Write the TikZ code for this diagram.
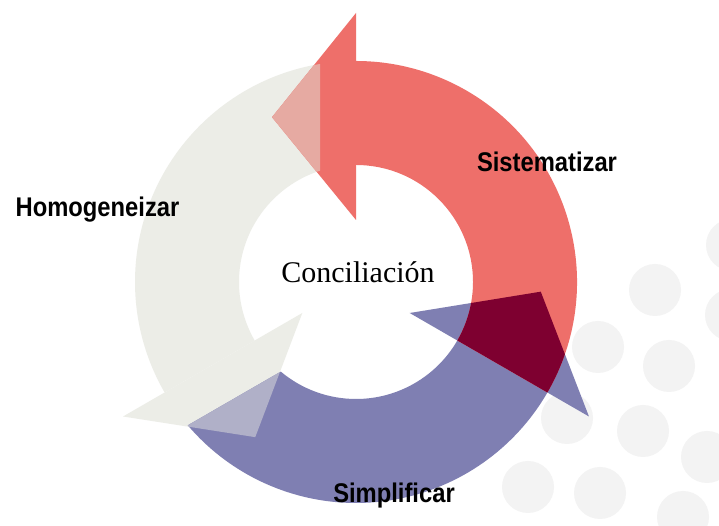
\documentclass[tikz,border=0pt]{standalone}
\usepackage{fontspec}
\setmainfont{Liberation Serif}
\newfontfamily\labelfont{Liberation Sans}
\definecolor{redA}{RGB}{238,111,106}
\definecolor{greyA}{RGB}{236,237,231}
\definecolor{blueA}{RGB}{127,127,178}
\definecolor{pinkO}{RGB}{230,170,162}
\definecolor{lavO}{RGB}{176,176,200}
\definecolor{darkO}{RGB}{126,0,48}
\definecolor{dotgray}{RGB}{243,243,243}
\newcommand\pRedBody{(-30:221) arc[start angle=-30,end angle=90,radius=221] -- (90:117) arc[start angle=90,end angle=-30,radius=117] -- cycle}
\newcommand\pRedHead{(90:62) -- (90:269) -- (117:185) -- cycle}
\newcommand\pGreyBody{(99.37:221) arc[start angle=99.37,end angle=210,radius=221] -- (210:117) arc[start angle=210,end angle=107.92,radius=117] -- cycle}
\newcommand\pGreyHead{(210:62) -- (210:269) -- (237:185) -- cycle}
\newcommand\pBlueBody{(220.43:221) arc[start angle=220.43,end angle=330,radius=221] -- (330:117) arc[start angle=330,end angle=229.99,radius=117] -- cycle}
\newcommand\pBlueHead{(330:62) -- (330:269) -- (357:185) -- cycle}
\tikzset{
  lbl/.style={inner sep=0pt, anchor=base, font=\labelfont\bfseries\fontsize{27}{27}\selectfont, text=black},
  center lbl/.style={inner sep=0pt, anchor=base, font=\fontsize{30}{30}\selectfont, text=black},
  dot/.style={fill=dotgray}
}
\begin{document}
\begin{tikzpicture}[x=1pt,y=1pt]
\useasboundingbox (0,0) rectangle (719,526);
\fill[white] (0,0) rectangle (719,526);
% background dots
\foreach \dx/\dy in {655/236, 598/179, 669/160, 643/95, 567/108, 528/39, 600/33, 707/69, 683/9, 732/281, 731/211}
  \fill[dot] (\dx,\dy) circle (26);
\begin{scope}[shift={(356,244)}]
  \fill[greyA] \pGreyBody;
  \fill[greyA] \pGreyHead;
  \fill[blueA] \pBlueBody;
  \fill[blueA] \pBlueHead;
  \fill[redA] \pRedBody;
  \fill[redA] \pRedHead;
  \begin{scope}
    \clip \pRedHead;
    \fill[pinkO] \pGreyBody;
  \end{scope}
  \begin{scope}
    \clip \pGreyHead;
    \fill[lavO] \pBlueBody;
  \end{scope}
  \begin{scope}
    \clip \pBlueHead;
    \fill[darkO] \pRedBody;
  \end{scope}
\end{scope}
\node[lbl] (sis) at (547,354) {\scalebox{0.88}[1]{Sistematizar}};
\node[lbl] (hom) at (97.5,309) {\scalebox{0.88}[1]{Homogeneizar}};
\node[lbl] (sim) at (394,23) {\scalebox{0.88}[1]{Simplificar}};
\node[center lbl] (con) at (358,243) {Conciliación};
\end{tikzpicture}
\end{document}
